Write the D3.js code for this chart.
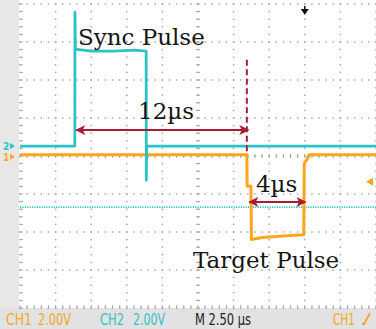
<!DOCTYPE html>
<html><head><meta charset="utf-8">
<script src="https://cdn.jsdelivr.net/npm/d3@7"></script>
<style>html,body{margin:0;padding:0;background:#fff;overflow:hidden}svg{display:block}</style>
</head><body>
<svg id="c" width="376" height="329"></svg>
<script>
// ---- data (time in µs, voltages in V, 2.00 V/div, 2.50 µs/div) ----
const timeDomain = [0, 25];
const divDomain = [-4, 4];
const voltsPerDiv = 2;
const ch1Ground = 0.03;   // divisions from centre
const ch2Ground = 0.26;
// CH2 : sync pulse (cyan)
const ch2Time  = [0, 3.85, 3.86, 3.89, 5.0, 6.5, 8.0, 8.86, 8.87, 8.9, 25];
const ch2Volts = [0, 0,    7.05, 5.1,  5.0, 5.0, 5.05, 5.0, -1.8, 0,   0];
// CH1 : target pulse (orange)
const ch1Time  = [0, 15.93, 15.95, 16.22, 16.25, 17.0, 18.0, 19.0, 19.93, 19.96, 20.15, 20.3, 25];
const ch1Volts = [0, 0,     -1.65, -1.65, -4.45, -4.35, -4.3, -4.25, -4.2, -0.45, -0.25, 0,    0];
const ch2RefLevel = -3.21;     // cyan dotted reference (V, CH2)
const ch1TrigLevel = -1.42;    // orange trigger marker (V, CH1)
const triggerTime = 20.0;
// annotations
const syncRise = 3.95, targetFall = 16.0, targetRise = 20.0;
const labels = [
  {text: "Sync Pulse", t: 4.07, d: 2.91},
  {text: "12µs", t: 8.29, d: 0.97},
  {text: "4µs", t: 16.57, d: -0.95},
  {text: "Target Pulse", t: 12.15, d: -2.95}
];
const statusTexts = [
  {text: "CH1", x: 6, w: 26, color: "#f6a623"},
  {text: "2.00V", x: 38, w: 33, color: "#f6a623"},
  {text: "CH2", x: 100, w: 24, color: "#2fc3c6"},
  {text: "2.00V", x: 133, w: 32, color: "#2fc3c6"},
  {text: "M 2.50 µs", x: 195, w: 56, color: "#222"},
  {text: "CH1", x: 333, w: 22, color: "#f6a623"}
];

const cyan = "#2cc3c6", orange = "#ffa51c", red = "#a61d33";
const svg = d3.select("#c");
const L = 20, R = 376, T = 4, B = 308;
const x = d3.scaleLinear().domain(timeDomain).range([L, R]);
const y = d3.scaleLinear().domain(divDomain).range([B, T]);

// background panels
svg.append("rect").attr("x", 0).attr("y", 0).attr("width", L - 1).attr("height", 329).attr("fill", "#e7e7e7");
svg.append("rect").attr("x", 0).attr("y", B).attr("width", 376).attr("height", 21).attr("fill", "#e2e2e2");

// grid dots
const g = svg.append("g").attr("fill", "#a8a8a8");
const majorT = d3.range(0, 25.01, 2.5), majorD = d3.range(-4, 4.01, 1);
const minorT = d3.range(0, 25.01, 0.5), minorD = d3.range(-4, 4.01, 0.2);
majorD.forEach(d => minorT.forEach(t => g.append("rect").attr("x", x(t) - 0.75).attr("y", y(d) - 0.75).attr("width", 1.5).attr("height", 1.5)));
majorT.forEach(t => minorD.forEach(d => g.append("rect").attr("x", x(t) - 0.75).attr("y", y(d) - 0.75).attr("width", 1.5).attr("height", 1.5)));
// minor ticks on centre axes and borders
minorD.forEach(d => {
  g.append("rect").attr("x", x(12.5) - 2).attr("y", y(d) - 0.5).attr("width", 4).attr("height", 1);
  g.append("rect").attr("x", L).attr("y", y(d) - 0.5).attr("width", 3).attr("height", 1);
});
minorT.forEach(t => {
  g.append("rect").attr("x", x(t) - 0.5).attr("y", y(0) - 2).attr("width", 1).attr("height", 4);
  g.append("rect").attr("x", x(t) - 0.5).attr("y", B - 3).attr("width", 1).attr("height", 3);
});

// reference dotted line (cyan)
svg.append("line").attr("x1", L).attr("x2", R)
  .attr("y1", y(ch2Ground + ch2RefLevel / voltsPerDiv)).attr("y2", y(ch2Ground + ch2RefLevel / voltsPerDiv))
  .attr("stroke", cyan).attr("stroke-width", 1.6).attr("stroke-dasharray", "1.2,1.2");

// traces
const ch1 = ch1Time.map((t, i) => [t, ch1Volts[i]]);
const ch2 = ch2Time.map((t, i) => [t, ch2Volts[i]]);
const line = off => d3.line().x(p => x(p[0])).y(p => y(off + p[1] / voltsPerDiv));
svg.append("path").datum(ch1).attr("d", line(ch1Ground)).attr("fill", "none").attr("stroke", orange).attr("stroke-width", 3).attr("stroke-linejoin", "round");
svg.append("path").datum(ch2).attr("d", line(ch2Ground)).attr("fill", "none").attr("stroke", cyan).attr("stroke-width", 2.8).attr("stroke-linejoin", "round");

// ground markers
svg.append("text").attr("x", 3).attr("y", y(ch2Ground) + 4).text("2").attr("fill", cyan).attr("font-family", "DejaVu Sans Condensed, DejaVu Sans, sans-serif").attr("font-size", 10).attr("font-weight", "bold");
svg.append("path").attr("d", `M10,${y(ch2Ground) - 3}L15,${y(ch2Ground)}L10,${y(ch2Ground) + 3}Z`).attr("fill", cyan);
svg.append("text").attr("x", 3).attr("y", y(ch1Ground) + 6).text("1").attr("fill", orange).attr("font-family", "DejaVu Sans Condensed, DejaVu Sans, sans-serif").attr("font-size", 10).attr("font-weight", "bold");
svg.append("path").attr("d", `M10,${y(ch1Ground) - 1}L15,${y(ch1Ground) + 2}L10,${y(ch1Ground) + 5}Z`).attr("fill", orange);

// trigger level marker (right) and trigger position marker (top)
const ty = y(ch1Ground + ch1TrigLevel / voltsPerDiv);
svg.append("path").attr("d", `M366,${ty}L373,${ty - 4}L373,${ty + 4}Z`).attr("fill", orange);
const tx = x(triggerTime);
svg.append("path").attr("d", `M${tx - 4},${T + 5}L${tx + 4},${T + 5}L${tx},${T + 11}Z`).attr("fill", "#111");
svg.append("rect").attr("x", tx - 0.75).attr("y", T + 2).attr("width", 1.5).attr("height", 4).attr("fill", "#111");

// annotations
const defs = svg.append("defs");
defs.append("marker").attr("id", "ah").attr("viewBox", "0 0 10 10").attr("refX", 9).attr("refY", 5)
  .attr("markerWidth", 5).attr("markerHeight", 5).attr("orient", "auto-start-reverse").attr("markerUnits", "strokeWidth")
  .append("path").attr("d", "M0,0L10,5L0,10L2.5,5Z").attr("fill", red);
function arrow(t1, t2, d) {
  svg.append("line").attr("x1", x(t1)).attr("x2", x(t2)).attr("y1", y(d)).attr("y2", y(d))
    .attr("stroke", red).attr("stroke-width", 2)
    .attr("marker-start", "url(#ah)").attr("marker-end", "url(#ah)");
}
svg.append("line").attr("x1", x(targetFall - 0.07)).attr("x2", x(targetFall - 0.07)).attr("y1", y(2.53)).attr("y2", y(0.08))
  .attr("stroke", red).attr("stroke-width", 2).attr("stroke-dasharray", "6,3.5");
arrow(syncRise, targetFall + 0.03, 0.684);
arrow(targetFall + 0.1, targetRise + 0.05, -1.21);

svg.selectAll("text.lab").data(labels).join("text").attr("class", "lab")
  .attr("x", d => x(d.t)).attr("y", d => y(d.d)).text(d => d.text)
  .attr("font-family", "DejaVu Serif, serif").attr("font-size", 23).attr("fill", "#161616");

// status bar
svg.selectAll("text.st").data(statusTexts).join("text").attr("class", "st")
  .attr("x", d => d.x).attr("y", 324.5).text(d => d.text).attr("fill", d => d.color)
  .attr("font-family", "Liberation Sans Narrow, DejaVu Sans Condensed, Roboto, sans-serif").attr("font-size", 15.5)
  .attr("textLength", d => d.w).attr("lengthAdjust", "spacingAndGlyphs");
svg.append("path").attr("d", "M362,324L364,324L370,313").attr("fill", "none").attr("stroke", "#f6a623").attr("stroke-width", 1.8);
</script>
</body></html>
